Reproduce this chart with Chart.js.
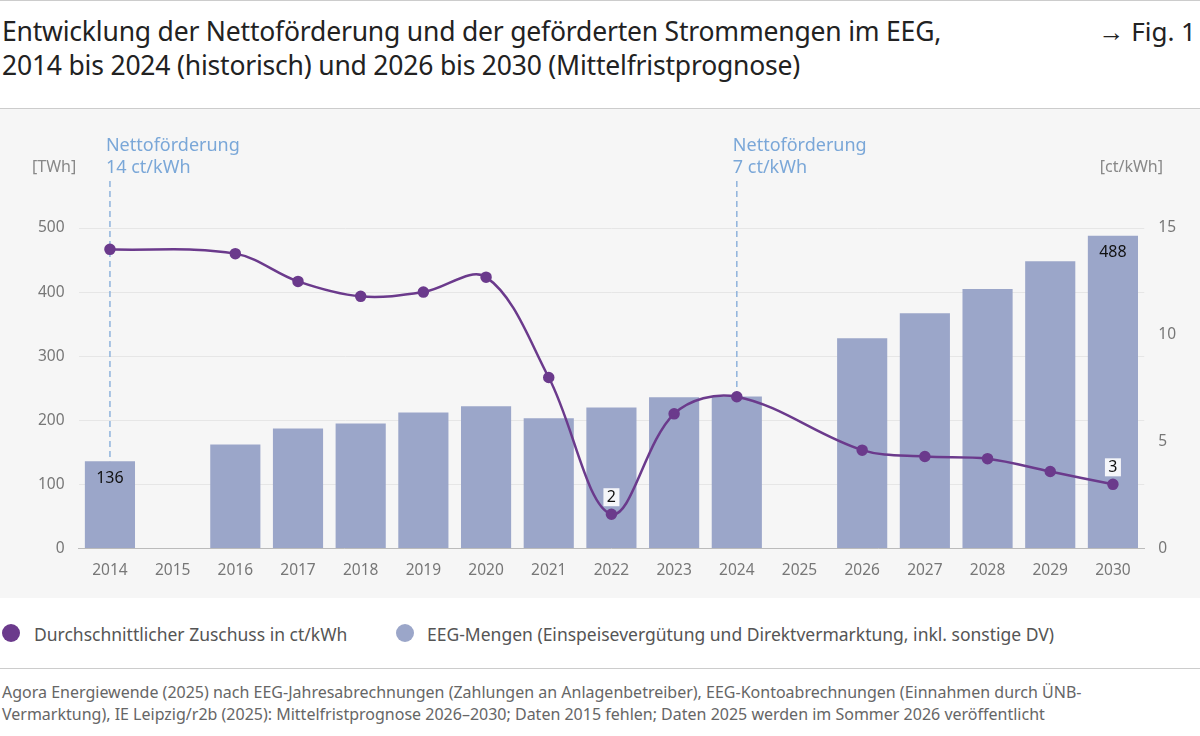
<!DOCTYPE html>
<html><head><meta charset="utf-8">
<script src="https://cdn.jsdelivr.net/npm/chart.js@4"></script>
<style>
body{margin:0;width:1200px;height:736px;background:#fff;font-family:"Noto Sans",sans-serif;color:#333;position:relative;overflow:hidden}
#title{position:absolute;left:2px;top:14px;font-size:26.5px;line-height:34px;color:#222;letter-spacing:-0.2px}
#fig{position:absolute;right:4px;top:14px;font-size:26px;line-height:34px;color:#222}
.rule{position:absolute;left:0;width:1200px;height:1px;background:#ccc}
#box{position:absolute;left:0;top:109px;width:1200px;height:489px;background:#f6f6f6}
#wrap{position:absolute;left:0;top:109px;width:1200px;height:478px}
#legend{position:absolute;top:622px;left:0;font-size:17.5px;color:#555}
.li{position:absolute;white-space:nowrap}
.dot{position:absolute;width:18px;height:18px;border-radius:9px;top:2px}
#src{position:absolute;left:2px;top:681px;font-size:16px;line-height:22px;color:#666}
</style></head><body>
<div class="rule" style="top:0"></div>
<div id="title">Entwicklung der Nettoförderung und der geförderten Strommengen im EEG,<br>2014 bis 2024 (historisch) und 2026 bis 2030 (Mittelfristprognose)</div>
<div id="fig">→ Fig. 1</div>
<div class="rule" style="top:108px"></div>
<div id="box"></div>
<div id="wrap"><canvas id="c"></canvas></div>
<div id="legend">
<div class="li" style="left:2px"><span class="dot" style="background:#6b3a8c"></span><span style="margin-left:32px">Durchschnittlicher Zuschuss in ct/kWh</span></div>
<div class="li" style="left:396px"><span class="dot" style="background:#9ba6c9"></span><span style="margin-left:31px">EEG-Mengen (Einspeisevergütung und Direktvermarktung, inkl. sonstige DV)</span></div>
</div>
<div class="rule" style="top:668px"></div>
<div id="src">Agora Energiewende (2025) nach EEG-Jahresabrechnungen (Zahlungen an Anlagenbetreiber), EEG-Kontoabrechnungen (Einnahmen durch ÜNB-<br>Vermarktung), IE Leipzig/r2b (2025): Mittelfristprognose 2026–2030; Daten 2015 fehlen; Daten 2025 werden im Sommer 2026 veröffentlicht</div>
<script>
const years=["2014","2015","2016","2017","2018","2019","2020","2021","2022","2023","2024","2025","2026","2027","2028","2029","2030"];
const mengenTWh=[136,null,162,187,195,212,222,203,220,236,237,null,328,367,405,448,488];
const zuschussCt=[14.0,null,13.8,12.5,11.8,12.0,12.7,8.0,1.6,6.3,7.1,null,4.6,4.3,4.2,3.6,3.0];
const leftTicks=[0,100,200,300,400,500];
const rightTicks=[0,5,10,15];
const barLabels={0:"136",16:"488"};
const lineLabels={8:"2",16:"3"};
const annotations=[{i:0,t:["Nettoförderung","14 ct/kWh"]},{i:10,t:["Nettoförderung","7 ct/kWh"]}];
const F='"Noto Sans",sans-serif';
const extra={id:'extra',
 beforeDatasetsDraw(ch){const c=ch.ctx,x=ch.scales.x,y=ch.scales.y;c.save();
  c.setLineDash([6,4]);c.strokeStyle='#8fb3dc';c.lineWidth=1.5;
  annotations.forEach(a=>{const px=x.getPixelForValue(a.i);c.beginPath();c.moveTo(px,72);c.lineTo(px,y.getPixelForValue(mengenTWh[a.i]));c.stroke();
   c.fillStyle='#7aa7d8';c.font='18px '+F;c.textAlign='left';c.textBaseline='alphabetic';c.fillText(a.t[0],px-4,42);c.fillText(a.t[1],px-4,64);});
  c.setLineDash([]);c.fillStyle='#888';c.font='16px '+F;c.textAlign='left';c.fillText('[TWh]',32,63);c.textAlign='right';c.fillText('[ct/kWh]',1163,63);c.restore();},
 afterDatasetsDraw(ch){const c=ch.ctx,x=ch.scales.x,y=ch.scales.y,y1=ch.scales.y1;c.save();c.font='16px '+F;c.fillStyle='#111';c.textAlign='center';c.textBaseline='middle';
  for(const k in barLabels){c.fillText(barLabels[k],x.getPixelForValue(+k),y.getPixelForValue(mengenTWh[k])+17);}
  for(const k in lineLabels){const px=x.getPixelForValue(+k),py=y1.getPixelForValue(zuschussCt[k])-17;c.fillStyle='rgba(255,255,255,0.9)';c.fillRect(px-8,py-9,16,18);c.fillStyle='#111';c.fillText(lineLabels[k],px,py);}
  c.restore();}};
new Chart(document.getElementById('c'),{
 data:{labels:years,datasets:[
  {type:'line',data:zuschussCt,yAxisID:'y1',borderColor:'#6b3a8c',backgroundColor:'#6b3a8c',borderWidth:2.5,pointRadius:4.5,tension:0.35,spanGaps:true,order:0},
  {type:'bar',data:mengenTWh,yAxisID:'y',backgroundColor:'#9ba6c9',barPercentage:0.8,categoryPercentage:1,order:1}]},
 options:{responsive:true,maintainAspectRatio:false,animation:false,
  layout:{padding:{top:119,left:24,right:18,bottom:2}},
  plugins:{legend:{display:false},tooltip:{enabled:false}},
  scales:{
   x:{grid:{display:false},border:{display:true,color:'#bbb'},ticks:{color:'#777',font:{size:15.5,family:F},padding:5}},
   y:{position:'left',min:0,max:500,afterBuildTicks:s=>{s.ticks=leftTicks.map(v=>({value:v}))},grid:{color:'#e6e6e6',drawTicks:false},border:{display:false},ticks:{color:'#777',font:{size:15.5,family:F},padding:14}},
   y1:{position:'right',min:0,max:15,afterBuildTicks:s=>{s.ticks=rightTicks.map(v=>({value:v}))},grid:{display:false},border:{display:false},ticks:{color:'#777',font:{size:15.5,family:F},padding:6}}}},
 plugins:[extra]});
</script></body></html>
